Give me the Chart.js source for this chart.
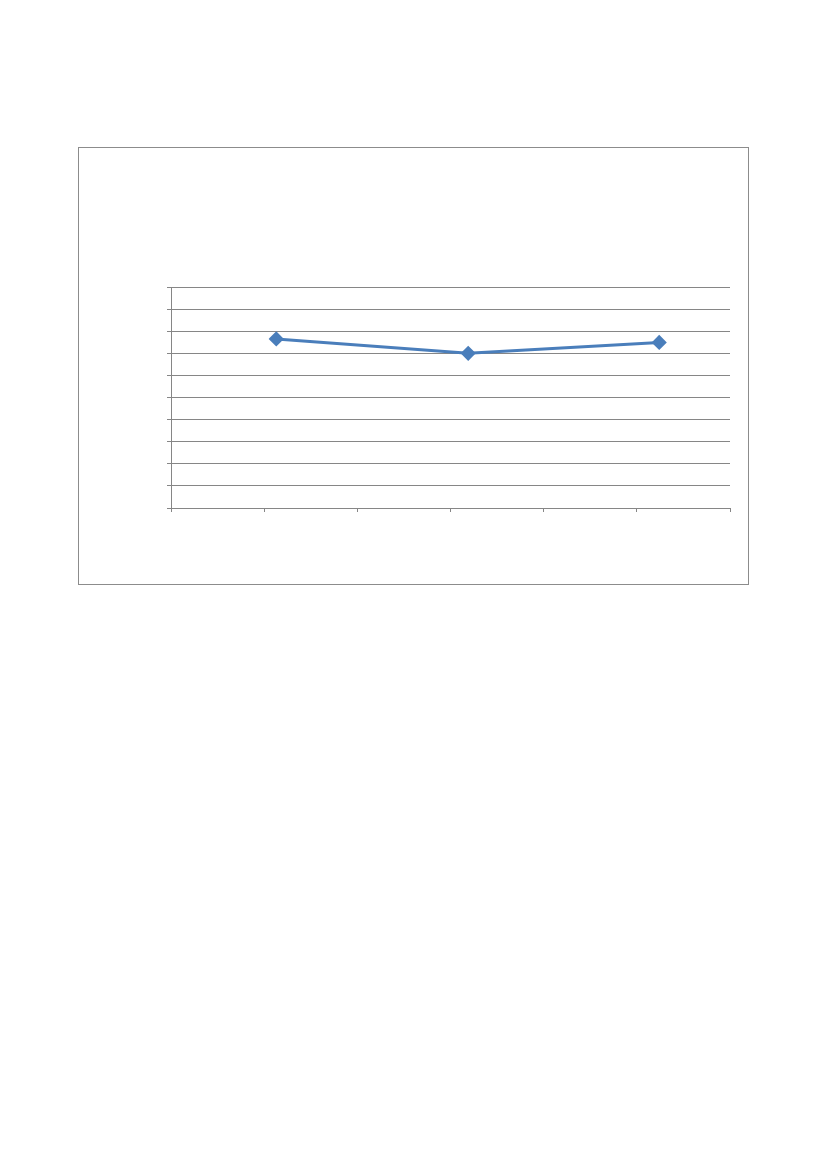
<!DOCTYPE html>
<html>
<head>
<meta charset="utf-8">
<script src="https://cdn.jsdelivr.net/npm/chart.js@4/dist/chart.umd.min.js"></script>
<style>
  body { margin: 0; background: #fff; }
  #box {
    position: absolute; left: 78px; top: 147px;
    width: 669px; height: 436px;
    border: 1px solid #8c8c8c;
  }
  #chart { display: block; }
</style>
</head>
<body>
<div id="box"><canvas id="chart" width="669" height="436"></canvas></div>
<script>
// values (no labels are shown on either axis)
const xPositions = [1.13, 3.19, 5.24];
const yValues = [7.65, 7.0, 7.49];
const xRange = [0, 6];
const yRange = [0, 10];

const points = xPositions.map((x, i) => ({ x: x, y: yValues[i] }));

const ctx = document.getElementById('chart').getContext('2d');

new Chart(ctx, {
  type: 'scatter',
  data: {
    datasets: [
      {
        data: points,
        showLine: true,
        borderColor: '#4a7ebb',
        backgroundColor: '#4a7ebb',
        borderWidth: 3,
        pointStyle: 'rectRot',
        pointRadius: 5.5,
        pointHoverRadius: 5.5
      }
    ]
  },
  options: {
    responsive: false,
    animation: false,
    layout: {
      padding: { left: 88, right: 18, top: 139, bottom: 72 }
    },
    plugins: {
      legend: { display: false },
      tooltip: { enabled: false }
    },
    scales: {
      x: {
        type: 'linear',
        min: xRange[0],
        max: xRange[1],
        ticks: { stepSize: 1, display: false },
        grid: { drawOnChartArea: false, drawTicks: true, tickLength: 4, color: '#868686' },
        border: { color: '#868686' }
      },
      y: {
        min: yRange[0],
        max: yRange[1],
        ticks: { stepSize: 1, display: false },
        grid: { drawTicks: true, tickLength: 4, color: '#868686' },
        border: { color: '#868686' }
      }
    }
  }
});
</script>
</body>
</html>
